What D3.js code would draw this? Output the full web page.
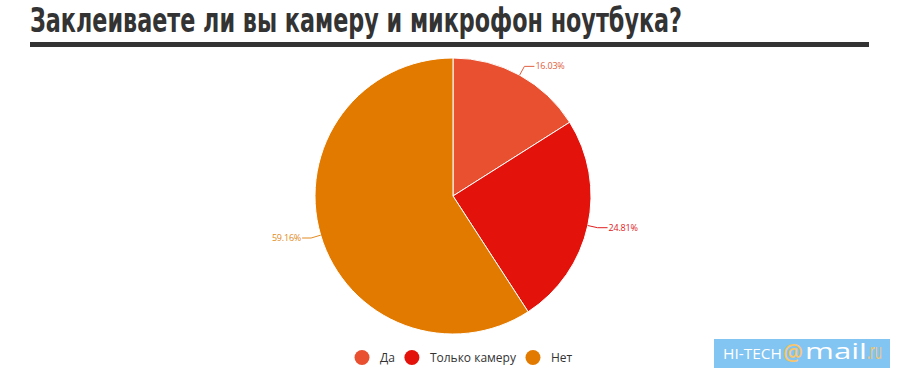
<!DOCTYPE html>
<html><head><meta charset="utf-8">
<script src="https://cdn.jsdelivr.net/npm/d3@7"></script>
<style>body{margin:0;background:#fff}svg{display:block}</style>
</head><body>
<svg id="c" width="900" height="378"></svg>
<script>
const title = "Заклеиваете ли вы камеру и микрофон ноутбука?";
const categories = ["Да", "Только камеру", "Нет"];
const values = [16.03, 24.81, 59.16];
const colors = ["#E8502F", "#E3120B", "#E37A00"];
const labelColors = ["#E06040", "#E02020", "#E38A20"];

const svg = d3.select("#c");
const cx = 453, cy = 196, R = 138;

// title
svg.append("text").attr("x", 30).attr("y", 32)
  .attr("font-family", "'Liberation Sans Narrow','DejaVu Sans Condensed',sans-serif")
  .attr("font-weight", "bold").attr("font-size", 33).attr("fill", "#333")
  .attr("textLength", 652).attr("lengthAdjust", "spacingAndGlyphs")
  .text(title);
svg.append("rect").attr("x", 30).attr("y", 42).attr("width", 839).attr("height", 5).attr("fill", "#333");

const data = categories.map((c, i) => ({cat: c, value: values[i], i}));
const pie = d3.pie().value(d => d.value).sort(null);
const arcs = pie(data);
const arc = d3.arc().innerRadius(0).outerRadius(R);
const g = svg.append("g").attr("transform", `translate(${cx},${cy})`);
g.selectAll("path").data(arcs).join("path")
  .attr("d", arc).attr("fill", d => colors[d.data.i])
  .attr("stroke", "#fff").attr("stroke-width", 1);

// labels
arcs.forEach(a => {
  const m = (a.startAngle + a.endAngle) / 2;
  const p1 = [R * Math.sin(m), -R * Math.cos(m)];
  const p2 = [(R + 10) * Math.sin(m), -(R + 10) * Math.cos(m)];
  const right = Math.sin(m) >= 0;
  const p3 = [p2[0] + (right ? 10 : -9), p2[1]];
  const col = labelColors[a.data.i];
  g.append("polyline").attr("points", [p1, p2, p3].map(p => p.join(",")).join(" "))
    .attr("fill", "none").attr("stroke", col).attr("stroke-width", 1);
  g.append("text").attr("x", p3[0] + (right ? 1 : -1)).attr("y", p3[1] + 3)
    .attr("text-anchor", right ? "start" : "end")
    .attr("font-family", "'Open Sans',sans-serif").attr("font-size", 9)
    .attr("fill", col).attr("letter-spacing", -0.2)
    .text(d3.format(".2f")(a.data.value) + "%");
});

// legend
const lg = svg.append("g");
let x = 0;
categories.forEach((c, i) => {
  lg.append("circle").attr("cx", x).attr("cy", 357.5).attr("r", 7.5).attr("fill", colors[i]);
  const t = lg.append("text").attr("x", x + 18).attr("y", 362)
    .attr("font-family", "'Open Sans',sans-serif").attr("font-size", 12).attr("fill", "#333").text(c);
  x = x + 18 + t.node().getComputedTextLength() + 17;
});
lg.attr("transform", `translate(${362},0)`);

// logo
const logo = svg.append("g").attr("font-family", "'Open Sans',sans-serif");
logo.append("rect").attr("x", 714).attr("y", 339).attr("width", 176).attr("height", 29).attr("fill", "#82C4F2");
logo.append("text").attr("x", 723).attr("y", 359).attr("font-size", 15).attr("fill", "#fff")
  .attr("textLength", 59).attr("lengthAdjust", "spacingAndGlyphs").text("HI-TECH");
logo.append("text").attr("x", 783).attr("y", 361).attr("font-size", 23).attr("fill", "#F7C66E")
  .attr("font-weight", "600").attr("textLength", 20).attr("lengthAdjust", "spacingAndGlyphs").text("@");
logo.append("text").attr("x", 805).attr("y", 359).attr("font-size", 22).attr("fill", "#fff")
  .attr("font-weight", "500").attr("textLength", 62).attr("lengthAdjust", "spacingAndGlyphs").text("mail");
logo.append("text").attr("x", 867).attr("y", 359).attr("font-size", 22).attr("fill", "#F7C66E")
  .attr("textLength", 15).attr("lengthAdjust", "spacingAndGlyphs").text(".ru");
</script>
</body></html>
